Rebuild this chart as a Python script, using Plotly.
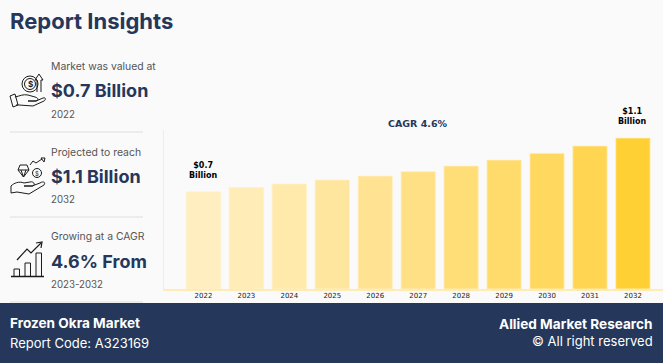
import plotly.graph_objects as go

years = ["2022","2023","2024","2025","2026","2027","2028","2029","2030","2031","2032"]
values = [0.707,0.738,0.765,0.794,0.823,0.855,0.896,0.940,0.988,1.042,1.1]
bar_colors = ["#FFEEC0","#FFECB7","#FFE9AB","#FFE69F","#FFE392","#FFE085","#FFDD77","#FFDB6C","#FFD95F","#FFD552","#FFD033"]
end_labels = {"2022":"$0.7<br>Billion","2032":"$1.1<br>Billion"}

W,H = 663,363
NAVY = "#25375A"; GREY="#555555"; INK="#1a1a1a"
SANS = "Inter"
DV = "DejaVu Sans"

fig = go.Figure(go.Bar(x=list(range(11)), y=values, width=0.8,
    marker=dict(color=bar_colors, line=dict(color="rgba(255,240,200,0.8)", width=1)), hoverinfo="skip"))

shapes=[]; anns=[]
def X(x): return x/W
def Y(y): return 1-y/H
def path(d, color=INK, width=1.0, fill=None):
    out=[]
    for tok in d.split():
        if "," in tok:
            a,b=tok.split(","); out.append(f"{X(float(a)):.5f},{Y(float(b)):.5f}")
        else: out.append(tok)
    s=dict(type="path",xref="paper",yref="paper",path=" ".join(out),line=dict(color=color,width=width),layer="above")
    if fill: s["fillcolor"]=fill
    shapes.append(s)
def circ(cx,cy,r,color=INK,width=1.0):
    shapes.append(dict(type="circle",xref="paper",yref="paper",x0=X(cx-r),x1=X(cx+r),y0=Y(cy+r),y1=Y(cy-r),line=dict(color=color,width=width),layer="above"))
def rect(x0,y0,x1,y1,fill=None,color=None,width=0,layer="below"):
    shapes.append(dict(type="rect",xref="paper",yref="paper",x0=X(x0),x1=X(x1),y0=Y(y1),y1=Y(y0),fillcolor=fill,line=dict(color=color,width=width),layer=layer))
def text(x,y,s,size,color,bold=False,anchor="left",font=SANS):
    anns.append(dict(xref="paper",yref="paper",x=X(x),y=Y(y),text=f"<b>{s}</b>" if bold else s,showarrow=False,
        xanchor=anchor,yanchor="middle",font=dict(family=font,size=size,color=color),borderpad=0,borderwidth=0))

# footer and separators
rect(0,303,W,H,fill=NAVY)
for sy in (132,217,302):
    rect(10,sy-0.5,143,sy+0.5,fill="#DDDDDD")

# icon 1: hand with coin and arrow
hand1 = "M 15,97 C 20,96 23,94 28,95 L 35,97 C 39,98 39,101 35,101 L 28,101 L 36,101 L 43,98 C 46,97 46,100 44,101 L 33,106 L 19,105 L 16,105"
path(hand1)
path("M 10,96 L 15,94 L 18,105 L 13,107 Z")
circ(30,84,8); circ(30,84,5.5)
path("M 37,92 L 37,80 L 35,80 L 39,74 L 43,80 L 41,80 L 41,92")
text(30,84.5,"$",8,INK,True,"center")
# icon 2: hand with diamond and coin
path("M 11,186 L 11,193 L 17,192 L 29,194 L 44,185 C 46,182 43,181 40,183 L 32,186 L 24,186 L 33,186 C 36,184 33,181 30,182 L 24,183 C 19,181 14,183 11,186 Z")
path("M 18,170 L 20,165 L 27,165 L 29,170 L 23.5,177 Z M 18,170 L 29,170 M 21,170 L 23.5,177 M 26,170 L 23.5,177")
circ(37,173,4.5)
text(37,173.5,"$",6,INK,False,"center")
path("M 30,165 L 33,161 L 36,163 L 42,159")
path("M 41,158 L 45,158 L 44,162 Z")
# icon 3: bar chart with arrow
path("M 11,276.5 L 44,276.5",width=1.4)
path("M 14,276 L 14,269 L 19.5,269 L 19.5,276")
path("M 25,276 L 25,263 L 30.5,263 L 30.5,276")
path("M 36,276 L 36,253 L 41.5,253 L 41.5,276")
path("M 17,260 L 27,249 L 31,253 L 41,243",width=1.2)
path("M 36,243 L 42,242 L 41,248",width=1.2)

# texts
text(10,21,"Report Insights",22,NAVY,True)
rows=[("Market was valued at","$0.7 Billion","2022",66,91,114),
      ("Projected to reach","$1.1 Billion","2032",152,176,199),
      ("Growing at a CAGR","4.6% From","2023-2032",236.5,261,284)]
for a,b,c,y1,y2,y3 in rows:
    text(51,y1,a,10.4,GREY); text(51,y2,b,18,NAVY,True); text(51,y3,c,9.7,GREY)
text(10,323,"Frozen Okra Market",13.6,"white",True)
text(10,343,"Report Code: A323169",13,"white")
text(653,324,"Allied Market Research",13.6,"white",True,"right")
text(653,341,"© All right reserved",13,"white",False,"right")
text(418,123,"CAGR 4.6%",9.5,NAVY,True,"center",DV)

# bar value labels, tied to data
for i,(yr,v) in enumerate(zip(years,values)):
    if yr in end_labels:
        anns.append(dict(x=i,y=v,xref="x",yref="y",text=f"<b>{end_labels[yr]}</b>",showarrow=False,yanchor="bottom",yshift=10,
            font=dict(family=DV,size=8,color="black")))

L,R,T,B = 163.5,663,130,289
fig.update_layout(width=W,height=H,autosize=False,margin=dict(l=0,r=0,t=0,b=0),
    paper_bgcolor="#FAFAFA",plot_bgcolor="#FAFAFA",showlegend=False,shapes=shapes,annotations=anns,
    xaxis=dict(domain=[L/W,R/W],range=[-0.93,10.7],tickmode="array",tickvals=list(range(11)),ticktext=years,ticklabelstandoff=-1,
        tickfont=dict(family=DV,size=7,color="#222222"),ticks="",showgrid=False,zeroline=False,showline=True,linecolor="#FFEBB3",linewidth=2),
    yaxis=dict(domain=[1-B/H,1-T/H],range=[0,1.158],showticklabels=False,ticks="",showgrid=False,zeroline=False,showline=True,linecolor="#FFEDBE",linewidth=1))
fig.write_html("out.html",config={"displayModeBar":False},
    post_script="document.body.style.margin='0';document.body.style.overflow='hidden';")
